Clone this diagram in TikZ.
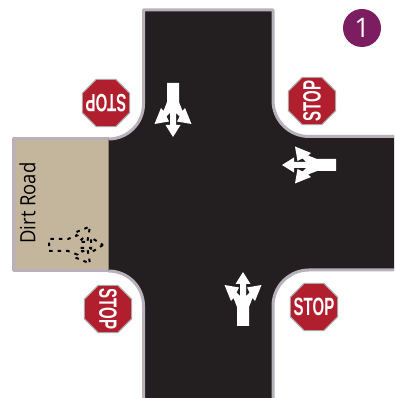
\documentclass[tikz,border=0pt]{standalone}
\usepackage{fontspec}
\usepackage{graphicx}
\setmainfont{Open Sans}
\newfontfamily\signfont{Liberation Sans}
\usetikzlibrary{shapes.geometric}
\definecolor{asphalt}{HTML}{231F20}
\definecolor{curb}{HTML}{B8B1BB}
\definecolor{dirt}{HTML}{C4B59D}
\definecolor{signred}{HTML}{B11E2D}
\definecolor{signedge}{HTML}{A9A6A6}
\definecolor{badge}{HTML}{7C1D62}
\newcommand{\stopword}{\scalebox{.6}[1]{\signfont\bfseries\fontsize{25}{25}\selectfont STOP}}
\tikzset{
  curbline/.style={draw=curb,line width=3pt,line join=round},
  stopsign/.style={regular polygon,regular polygon sides=8,
    minimum size=51pt,inner sep=0pt,fill=signred,draw=signedge,line width=1pt,text=white},
  lanearrow/.pic={
    \path[pic actions]
      (0,54) -- (7.5,42) -- (3,42) -- (3,30) -- (6.5,33.5) -- (4,38.5) -- (18.5,41)
      -- (12,25) -- (9.5,28) -- (6,19) -- (6,0) -- (-6,0) -- (-6,19) -- (-9.5,28) -- (-12,25)
      -- (-18.5,41) -- (-4,38.5) -- (-6.5,33.5) -- (-3,30) -- (-3,42) -- (-7.5,42) -- cycle;
  },
  paved/.style={fill=white},
  unpaved/.style={draw=black,line width=2pt,dash pattern=on 3.5pt off 5pt}
}
\begin{document}
\begin{tikzpicture}[x=1pt,y=1pt]
\useasboundingbox (0,0) rectangle (394,398);
\fill[white] (0,0) rectangle (394,398);
% dirt road
\fill[dirt] (13,127) rectangle (109,259);
\path[curbline] (109,127) -- (13,127) -- (13,259) -- (109,259);
% paved road
\fill[asphalt] (143.5,388) -- (143.5,294) arc[start angle=0,end angle=-90,radius=35]
  -- (108.5,127) arc[start angle=90,end angle=0,radius=35]
  -- (143.5,0) -- (273,0) -- (273,92) arc[start angle=180,end angle=90,radius=36]
  -- (394,128) -- (394,261.5) -- (309,261.5) arc[start angle=270,end angle=180,radius=36]
  -- (273,388) -- cycle;
\draw[curbline] (108.5,259) arc[start angle=-90,end angle=0,radius=35] -- (143.5,388) -- (273,388)
  -- (273,297.5) arc[start angle=180,end angle=270,radius=36] -- (394,261.5);
\draw[curbline] (108.5,127) arc[start angle=90,end angle=0,radius=35] -- (143.5,0);
\draw[curbline] (273,0) -- (273,92) arc[start angle=180,end angle=90,radius=36] -- (394,128);
% lane arrows
\pic[paved] at (243,72) {lanearrow};
\pic[paved,rotate=180] at (173,315) {lanearrow};
\pic[paved,rotate=90] at (336,233) {lanearrow};
\pic[unpaved,rotate=-90] at (49,153) {lanearrow};
% label
\node[rotate=90,text=black,font=\fontsize{21}{21}\selectfont] (dirtlabel) at (27.5,195) {\scalebox{.88}[1]{Dirt Road}};
% stop signs
\node[stopsign] (signnw) at (106,295) {};
\node[text=white,rotate=180] at (signnw) {\stopword};
\node[stopsign] (signne) at (312,297) {};
\node[text=white,rotate=90] at (signne) {\stopword};
\node[stopsign] (signsw) at (108,89) {};
\node[text=white,rotate=-90] at (signsw) {\stopword};
\node[stopsign] (signse) at (314,91) {};
\node[text=white] at (signse) {\stopword};
% badge
\node[circle,fill=badge,minimum size=38pt,inner sep=0pt,text=white,font=\fontsize{27}{27}\selectfont] (badgeone) at (362,370) {1};
\end{tikzpicture}
\end{document}
